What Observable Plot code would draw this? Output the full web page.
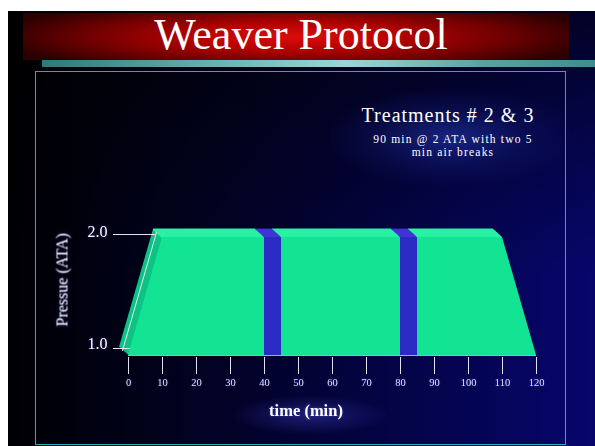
<!DOCTYPE html>
<html><head><meta charset="utf-8">
<script src="https://cdn.jsdelivr.net/npm/d3@7"></script>
<script src="https://cdn.jsdelivr.net/npm/@observablehq/plot@0.6"></script>
<style>
html,body{margin:0;padding:0;background:#fff;width:595px;height:446px;overflow:hidden;position:relative;}
#slide{position:absolute;left:8px;top:11px;width:587px;height:435px;
  background:
    linear-gradient(to bottom, rgba(0,0,0,0.65) 0%, rgba(0,0,0,0.25) 35%, rgba(0,0,0,0) 60%),
    linear-gradient(to right, #000003 0%, #02022a 40%, #06066c 100%);}
#banner{position:absolute;left:23px;top:13px;width:546px;height:47px;
  background:radial-gradient(ellipse 55% 80% at 50% 50%, #dc0c0c 0%, #b40202 35%, #6a0000 72%, #2c0000 100%);}
#bar{position:absolute;left:42px;top:60px;width:553px;height:7px;
  background:linear-gradient(to right,#2a7b7b 0%,#6fb8b8 35%,#9ad8d8 55%,#5aa2a2 80%,#3f8c8c 100%);}
#box{position:absolute;left:35px;top:71px;width:531px;height:374px;box-sizing:border-box;border:1.5px solid #22b0b6;}
#glow{position:absolute;left:330px;top:90px;width:240px;height:95px;
  background:radial-gradient(ellipse at 50% 50%, rgba(35,55,175,0.6) 0%, rgba(20,30,120,0.3) 45%, rgba(0,0,60,0) 75%);}
#glow2{position:absolute;left:230px;top:395px;width:160px;height:40px;
  background:radial-gradient(ellipse at 50% 50%, rgba(60,60,190,0.45) 0%, rgba(0,0,80,0) 70%);}
#title{position:absolute;left:0;top:13px;width:602px;text-align:center;font:44px/44px "Liberation Serif",serif;color:#fff;}
#sub1{position:absolute;left:348px;top:103px;width:200px;text-align:center;font:20px/24px "Liberation Serif",serif;letter-spacing:1px;color:#fff;}
#sub2{position:absolute;left:343px;top:133px;width:220px;text-align:center;font:11.5px/13px "Liberation Serif",serif;letter-spacing:1.2px;color:#fff;}
#chart{position:absolute;left:0;top:0;}
#chart svg text{filter:drop-shadow(0 0 1.5px rgba(70,80,230,0.5));}
</style></head>
<body>
<div id="slide"></div>
<div id="banner"></div>
<div id="bar"></div>
<div id="box"></div>
<div id="glow"></div>
<div id="glow2"></div>
<div id="title">Weaver Protocol</div>
<div id="sub1">Treatments # 2 &amp; 3</div>
<div id="sub2">90 min @ 2 ATA with two 5<br>min air breaks</div>
<div id="chart"></div>
<script>
// ---- data ----
const time = [0, 10, 110, 120];           // pressure profile corners (min)
const pressure = [1.0, 2.0, 2.0, 1.0];    // ATA
const phaseStart = [10, 40, 45, 80, 85];
const phaseEnd = [40, 45, 80, 85, 110];
const phaseGas = ["O2", "air", "O2", "air", "O2"];
const breakStart = [40, 80];
const breakEnd = [45, 85];
const xTicks = [0, 10, 20, 30, 40, 50, 60, 70, 80, 90, 100, 110, 120];
const yTicks = [1.0, 2.0];
const xLabel = "time (min)";
const yLabel = "Pressue (ATA)";

// ---- derived tables ----
const pMin = d3.min(pressure), pMax = d3.max(pressure);
const profile = time.map((t, i) => ({time: t, pressure: pressure[i]}));
const phases = phaseStart.map((s, i) => ({start: s, end: phaseEnd[i], gas: phaseGas[i], p: pMax}));
const breaks = breakStart.map((s, i) => ({start: s, end: breakEnd[i]}));

// ---- styles ----
const FONT = "Liberation Serif";
const C = {front: "#13e494", side: "#0fc286", topO2: "#28f0a4", frontAir: "#2b2bc4", topAir: "#4036d4",
  edge: "#e4f2ec", base: "#a8a8e0", tick: "#e0e0f6", label: "#ffffff"};
const EX = -9, EY = -8, N = 12;
const yTickDy = {1: -7, 2: -3};
const yLabelDy = {1: -12, 2: -6};

const marks = [];
// extrusion (depth) layers
for (let k = N; k >= 1; k--) {
  marks.push(Plot.areaY(profile, {x: "time", y1: pMin, y2: "pressure", fill: C.side, dx: EX * k / N, dy: EY * k / N}));
}
// top face
for (let k = N; k >= 1; k--) {
  const o = {x1: "start", x2: "end", y: "p", strokeWidth: 1.8, dx: EX * k / N, dy: EY * k / N};
  marks.push(Plot.ruleY(phases, {...o, filter: d => d.gas === "O2", stroke: C.topO2}));
  marks.push(Plot.ruleY(phases, {...o, filter: d => d.gas === "air", stroke: C.topAir}));
}
// y tick lines
for (const v of yTicks) {
  marks.push(Plot.axisY([v], {tickSize: 42.5, dx: 27.5, dy: yTickDy[v], fill: "none", stroke: C.tick, label: null}));
}
// front face
marks.push(Plot.areaY(profile, {x: "time", y1: pMin, y2: "pressure", fill: C.front}));
marks.push(Plot.rect(breaks, {x1: "start", x2: "end", y1: pMin, y2: pMax, fill: C.frontAir}));
// left edge highlight line
marks.push(Plot.line(profile, {x: "time", y: "pressure", filter: (d, i) => i < 2, stroke: C.edge, strokeWidth: 1, dx: -6, dy: -5}));
// baseline
marks.push(Plot.ruleY([pMin], {stroke: C.base, strokeWidth: 1}));
// x axis
marks.push(Plot.axisX(xTicks, {tickSize: 17, tickPadding: 4, fontSize: 10.5, fontFamily: FONT, color: C.tick, label: null}));
// y labels
for (const v of yTicks) {
  marks.push(Plot.axisY([v], {tickSize: 0, tickPadding: 21, dy: yLabelDy[v], fontSize: 16, fontFamily: FONT, color: C.label, tickFormat: d3.format(".1f"), label: null}));
}
// axis titles
marks.push(Plot.text([yLabel], {frameAnchor: "left", dx: -66, dy: 46, rotate: -90, fontSize: 16, fontFamily: FONT, fill: C.label}));
marks.push(Plot.text([xLabel], {frameAnchor: "bottom", dx: -26.5, dy: 58, fontSize: 16.5, fontWeight: "bold", fontFamily: FONT, fill: C.label}));

const chart = Plot.plot({
  width: 595, height: 446,
  marginLeft: 128, marginRight: 59, marginTop: 203, marginBottom: 89,
  x: {domain: d3.extent(xTicks), label: null},
  y: {domain: [pMin, pMax], range: [355, 237], label: null},
  style: {background: "transparent", color: "#fff", fontFamily: FONT, overflow: "visible"},
  marks
});
document.getElementById("chart").appendChild(chart);
</script>
</body></html>
